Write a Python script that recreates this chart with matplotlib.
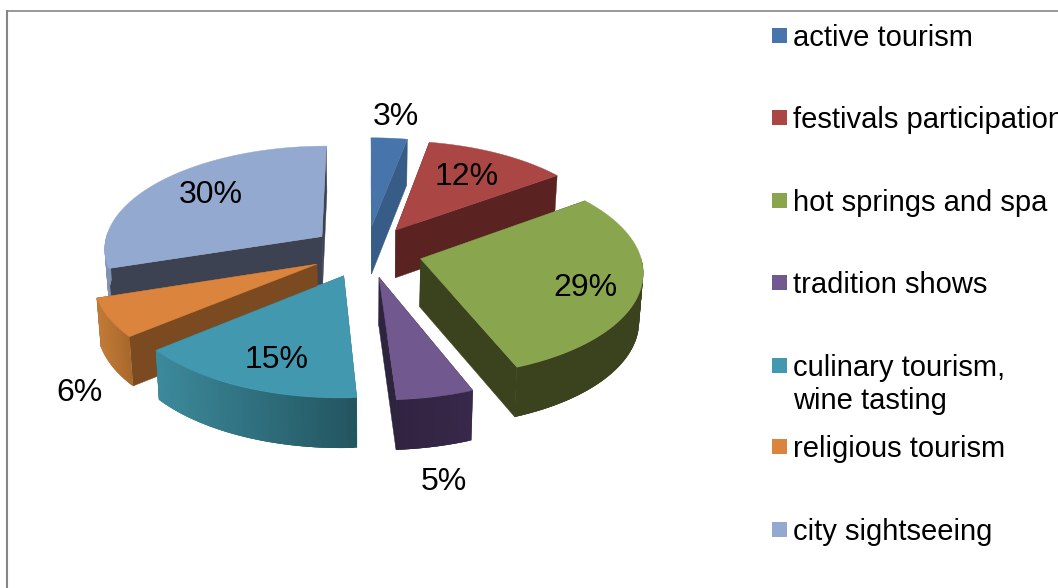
import numpy as np
import matplotlib; matplotlib.use("Agg")
import matplotlib.pyplot as plt
from matplotlib.collections import PolyCollection
from matplotlib.colors import to_rgb

labels=["active tourism","festivals participation","hot springs and spa","tradition shows",
        "culinary tourism,\nwine tasting","religious tourism","city sightseeing"]
values=[3,12,29,5,15,6,30]
top_col=["#4674AB","#AA4644","#89A54E","#71588F","#4198AF","#DB843D","#93A9CF"]
rad_col=["#375C87","#5A2321","#3A431E","#2D2440","#2A6675","#7B4A20","#3C4252"]
# outer wall gradient, left colour -> right colour
out_l=["#375C87","#5A2321","#3A431E","#302340","#3C8A9C","#C47C38","#7F92B3"]
out_r=["#375C87","#5A2321","#3A431E","#38284A","#235560","#A8682C","#7F92B3"]
draw_order=[6,0,1,5,2,4,3]
lab_xy=[(396,117),(467,177),(585,288),(444,482),(277,360),(80,393),(211,195)]
leg_y=[36,118,201,283,366,447,530]

CX,CY=366.5,251.5; RX,RY=219,103.3; K=0.108; EXPL=0.25; FS=23

def proj(u,v):
    s=1/(1-K*v)
    return CX+RX*u*s, CY+RY*v*s
def lower(x,y,v):
    # bottom rim of the slab, slightly pulled in
    return CX+(x-CX)*0.985, y+48+1.7*v

plt.rcParams["font.family"]=["Liberation Sans","DejaVu Sans"]
fig=plt.figure(figsize=(10.58,5.88),dpi=100,facecolor="white")
ax=fig.add_axes([0,0,1,1]); ax.set_xlim(0,1058); ax.set_ylim(588,0); ax.axis("off")

ax.plot([7,7],[588,10],color="#868686",lw=1.5,solid_capstyle="butt",zorder=1)
ax.plot([6,1058],[10.5,10.5],color="#868686",lw=1.2,solid_capstyle="butt",zorder=1)

edges=np.cumsum([0]+values)/sum(values)*2*np.pi
z=2
for i in draw_order:
    a0,a1=edges[i],edges[i+1]; mid=(a0+a1)/2
    tu,tv=EXPL*1.02*np.sin(mid),-EXPL*np.cos(mid)
    aa=np.linspace(a0,a1,90)
    u=tu+np.sin(aa); v=tv-np.cos(aa)
    x,y=proj(u,v); xb,yb=lower(x,y,v)
    tx,ty=proj(tu,tv); txb,tyb=lower(tx,ty,tv)
    # radial side walls
    for j in (0,-1):
        ax.fill([tx,x[j],xb[j],txb],[ty,y[j],yb[j],tyb],color=rad_col[i],lw=0.3,zorder=z)
    z+=1
    # outer wall, strips only where it faces the viewer; each overlaps the next so no seams
    polys,cols=[],[]
    c0,c1=np.array(to_rgb(out_l[i])),np.array(to_rgb(out_r[i]))
    xmin,xmax=x.min(),x.max()
    for j in range(len(aa)-1):
        if np.cos(aa[j])>0.0 and np.cos(aa[j+1])>0.0: continue
        k=min(j+3,len(aa)-1)
        idx=list(range(j,k+1))
        polys.append([(x[n],y[n]) for n in idx]+[(xb[n],yb[n]) for n in idx[::-1]])
        f=(x[j]-xmin)/max(xmax-xmin,1)
        cols.append(c0+(c1-c0)*f)
    if polys:
        ax.add_collection(PolyCollection(polys,facecolors=cols,edgecolors="none",linewidths=0,zorder=z))
    z+=1
    ax.fill(np.r_[tx,x],np.r_[ty,y],color=top_col[i],lw=0.3,zorder=z)
    z+=1

for i,val in enumerate(values):
    ax.text(lab_xy[i][0],lab_xy[i][1],f"{val}%",fontsize=FS,ha="center",va="center",color="black",zorder=100)

for i,lab in enumerate(labels):
    yy=leg_y[i]
    ax.add_patch(plt.Rectangle((772,yy-8),15,15,facecolor=top_col[i],edgecolor="none",zorder=5))
    ax.text(793,yy-12,lab,fontsize=21,ha="left",va="top",color="black",linespacing=1.22,zorder=5)

fig.savefig("out.png",dpi=100,facecolor="white")
